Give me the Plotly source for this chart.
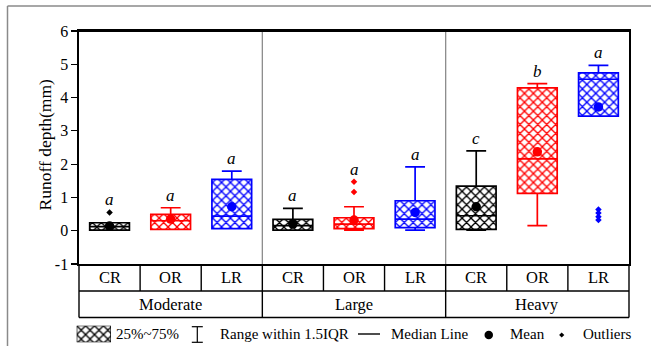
import plotly.graph_objects as go

# ---------------- data ----------------
groups = ["Moderate", "Large", "Heavy"]
treatments = ["CR", "OR", "LR"]
colors = ["black", "#ff0000", "#0000ff"]

# order: Moderate CR, OR, LR, Large CR, OR, LR, Heavy CR, OR, LR
q1 = [0.02, 0.04, 0.06, 0.02, 0.06, 0.09, 0.04, 1.12, 3.44]
median = [0.12, 0.30, 0.44, 0.15, 0.20, 0.35, 0.45, 2.16, 4.55]
q3 = [0.24, 0.49, 1.54, 0.34, 0.39, 0.90, 1.34, 4.29, 4.74]
lower = [0.02, 0.04, 0.06, 0.02, 0.02, 0.02, 0.02, 0.15, 3.44]
upper = [0.24, 0.69, 1.79, 0.67, 0.72, 1.92, 2.40, 4.42, 4.97]
mean = [0.14, 0.35, 0.72, 0.20, 0.32, 0.55, 0.72, 2.37, 3.72]
outliers = [[0.55], [], [], [], [1.47, 1.16], [], [], [], [0.64, 0.53, 0.42, 0.32]]
letters = ["a", "a", "a", "a", "a", "a", "c", "b", "a"]
yticks = [-1, 0, 1, 2, 3, 4, 5, 6]
ytitle = "Runoff depth(mm)"

W, H = 651, 346
FONT = "Liberation Serif"
BOXW = 0.65


def PX(px):
    return px / W


def PY(py):
    return 1 - py / H


fig = go.Figure()

n = len(groups) * len(treatments)
positions = list(range(n))

HATCH = dict(shape="x", size=6.3, solidity=0.38, fillmode="replace")

for t, tname in enumerate(treatments):
    idx = [g * len(treatments) + t for g in range(len(groups))]
    xs = [positions[i] for i in idx]
    col = colors[t]
    fig.add_trace(go.Bar(
        x=xs, y=[q3[i] - q1[i] for i in idx], base=[q1[i] for i in idx],
        width=BOXW, showlegend=False, hoverinfo="skip",
        marker=dict(color="white", line=dict(width=0),
                    pattern=dict(HATCH, fgcolor=col)),
    ))
    fig.add_trace(go.Box(
        x=xs, q1=[q1[i] for i in idx], median=[median[i] for i in idx],
        q3=[q3[i] for i in idx], lowerfence=[lower[i] for i in idx],
        upperfence=[upper[i] for i in idx], width=BOXW, whiskerwidth=0.5,
        fillcolor="rgba(0,0,0,0)", line=dict(color=col, width=1.7),
        boxpoints=False, showlegend=False, hoverinfo="skip",
    ))
    fig.add_trace(go.Scatter(
        x=xs, y=[mean[i] for i in idx], mode="markers", showlegend=False,
        marker=dict(symbol="circle", size=9.5, color=col), hoverinfo="skip",
    ))
    ox, oy = [], []
    for i in idx:
        for v in outliers[i]:
            ox.append(positions[i])
            oy.append(v)
    fig.add_trace(go.Scatter(
        x=ox, y=oy, mode="markers", showlegend=False,
        marker=dict(symbol="diamond", size=5, color=col), hoverinfo="skip",
    ))

# significance letters
for i in range(n):
    top = max([upper[i]] + outliers[i])
    fig.add_annotation(x=positions[i], y=top, xref="x", yref="y",
                       text="<i>%s</i>" % letters[i], showarrow=False,
                       yanchor="bottom", yshift=1,
                       font=dict(family=FONT, size=17, color="black"))

xmin, xmax = -0.5, n - 0.5


def XD(v):
    return (v - xmin) / (xmax - xmin)


shapes = []
row1 = (264 - 291) / 233.0
row2 = (264 - 317.5) / 233.0
# gray dividers inside plot
for k in range(1, len(groups)):
    b = k * len(treatments) - 0.5
    shapes.append(dict(type="line", xref="x domain", yref="y domain",
                       x0=XD(b), x1=XD(b), y0=0, y1=1,
                       line=dict(color="#8c8c8c", width=1.3), layer="below"))
# table vertical lines
for k in range(n + 1):
    b = k - 0.5
    is_group = (k % len(treatments) == 0)
    shapes.append(dict(type="line", xref="x domain", yref="y domain",
                       x0=XD(b), x1=XD(b), y0=0,
                       y1=row2 if is_group else row1,
                       line=dict(color="black", width=1.4)))
for r in (row1, row2):
    shapes.append(dict(type="line", xref="x domain", yref="y domain",
                       x0=0, x1=1, y0=r, y1=r,
                       line=dict(color="black", width=1.4)))
# top frame of plot slightly heavier
shapes.append(dict(type="line", xref="x domain", yref="y domain",
                   x0=0, x1=1, y0=1, y1=1, line=dict(color="black", width=2)))
# outer gray frame
shapes.append(dict(type="line", xref="paper", yref="paper",
                   x0=PX(7.5), x1=1.01, y0=PY(6), y1=PY(6),
                   line=dict(color="#8a8a8a", width=1.5)))
shapes.append(dict(type="line", xref="paper", yref="paper",
                   x0=PX(7.5), x1=PX(7.5), y0=PY(6), y1=-0.05,
                   line=dict(color="#8a8a8a", width=1.5)))

# y-axis title
fig.add_annotation(x=PX(44.5), y=PY(145), xref="paper", yref="paper",
                   text=ytitle, textangle=-90, showarrow=False,
                   xanchor="center", yanchor="middle",
                   font=dict(family=FONT, size=17.5, color="black"))

# table labels
for g, gname in enumerate(groups):
    for t, tname in enumerate(treatments):
        i = g * len(treatments) + t
        fig.add_annotation(x=positions[i], y=row1 / 2, xref="x", yref="y domain",
                           text=tname, showarrow=False, yanchor="middle",
                           font=dict(family=FONT, size=16.5, color="black"))
    center = (positions[g * 3] + positions[g * 3 + 2]) / 2
    fig.add_annotation(x=center, y=(row1 + row2) / 2, xref="x", yref="y domain",
                       text=gname, showarrow=False, yanchor="middle",
                       font=dict(family=FONT, size=16.5, color="black"))

# ---------------- legend ----------------
LY = 334
leg_font = dict(family=FONT, size=15, color="black")
for txt, px in [("25%~75%", 113.5), ("Range within 1.5IQR", 217.5),
                ("Median Line", 389), ("Mean", 507.5), ("Outliers", 581)]:
    fig.add_annotation(x=PX(px), y=PY(LY), xref="paper", yref="paper",
                       text=txt, showarrow=False, xanchor="left",
                       yanchor="middle", font=leg_font)
# I-beam
ix, iy0, iy1 = 197.3, 326.7, 342.3
shapes.append(dict(type="line", xref="paper", yref="paper", x0=PX(ix), x1=PX(ix),
                   y0=PY(iy0), y1=PY(iy1), line=dict(color="black", width=1.2)))
for yy in (iy0, iy1):
    shapes.append(dict(type="line", xref="paper", yref="paper", x0=PX(ix - 5.5),
                       x1=PX(ix + 5.5), y0=PY(yy), y1=PY(yy),
                       line=dict(color="black", width=1.2)))
# median line
shapes.append(dict(type="line", xref="paper", yref="paper", x0=PX(358), x1=PX(380),
                   y0=PY(LY), y1=PY(LY), line=dict(color="black", width=1.4)))
# mean dot
shapes.append(dict(type="circle", xref="paper", yref="paper", x0=PX(484.5),
                   x1=PX(493), y0=PY(330.8), y1=PY(339.3),
                   fillcolor="black", line=dict(color="black", width=0)))
# outlier diamond
dx, dy, r = 561.7, 335, 2.6
shapes.append(dict(type="path", xref="paper", yref="paper",
                   path="M %f,%f L %f,%f L %f,%f L %f,%f Z" % (
                       PX(dx), PY(dy - r), PX(dx + r), PY(dy),
                       PX(dx), PY(dy + r), PX(dx - r), PY(dy)),
                   fillcolor="black", line=dict(color="black", width=0)))

# hatch swatch for legend (own small axes)
fig.add_trace(go.Bar(x=[0], y=[1], base=[0], width=1, xaxis="x2", yaxis="y2",
                     showlegend=False, hoverinfo="skip",
                     marker=dict(color="white", line=dict(color="black", width=1.3),
                                 pattern=dict(HATCH, fgcolor="black"))))

fig.update_layout(
    width=W, height=H,
    margin=dict(l=0, r=0, t=0, b=0, autoexpand=False),
    paper_bgcolor="white", plot_bgcolor="white",
    barmode="overlay", boxmode="overlay",
    showlegend=False,
    font=dict(family=FONT, color="black"),
    shapes=shapes,
    xaxis=dict(domain=[PX(79), PX(629)], range=[xmin, xmax], showticklabels=False,
               ticks="", showline=True, mirror=True, linecolor="black",
               linewidth=1.6, showgrid=False, zeroline=False, fixedrange=True,
               automargin=False),
    yaxis=dict(domain=[PY(264), PY(31)], range=[-1, 6], tickvals=yticks,
               ticktext=[str(v) for v in yticks],
               ticks="outside", ticklen=6, tickwidth=1.2, tickcolor="black",
               showline=True, mirror=True, linecolor="black", linewidth=1.6,
               showgrid=False, zeroline=False, automargin=False, fixedrange=True,
               tickfont=dict(family=FONT, size=16, color="black")),
    xaxis2=dict(domain=[PX(76.7), PX(111)], range=[-0.5, 0.5], visible=False,
                anchor="y2", fixedrange=True),
    yaxis2=dict(domain=[PY(342.3), PY(325.7)], range=[0, 1], visible=False,
                anchor="x2", fixedrange=True),
)

fig.write_html("out.html",
               config={"displayModeBar": False, "staticPlot": True},
               post_script="document.body.style.margin='0';"
                           "document.body.style.overflow='hidden';")
